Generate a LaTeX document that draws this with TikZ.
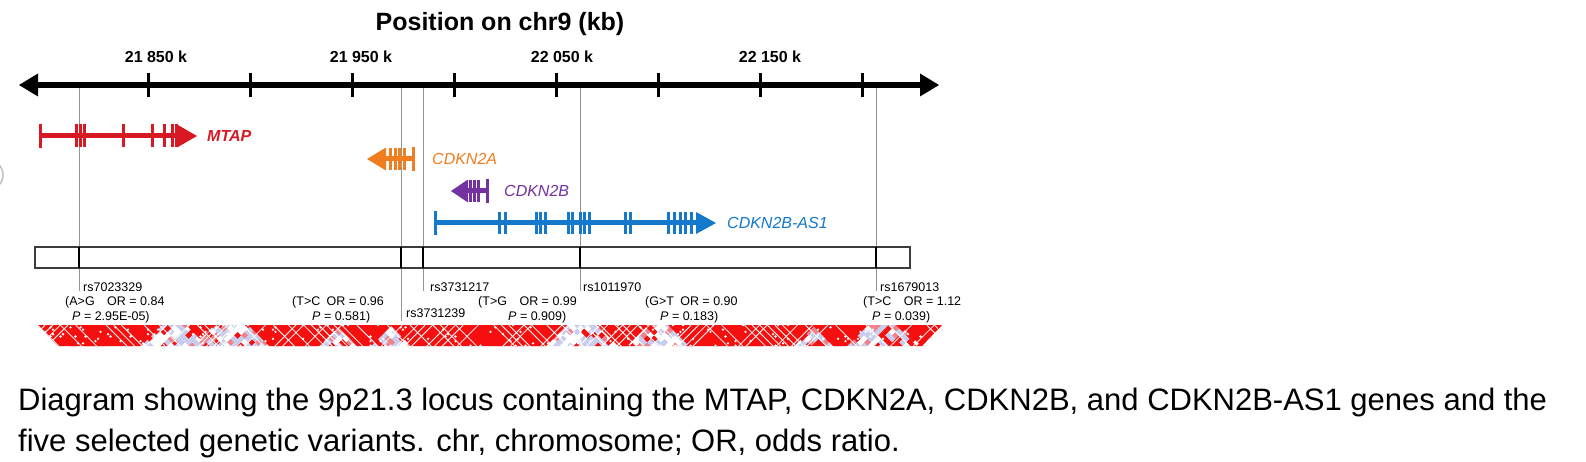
\documentclass[tikz,border=0pt]{standalone}
\usepackage{fontspec}
\setmainfont{Liberation Sans}
\definecolor{mtapred}{RGB}{215,25,35}
\definecolor{cdkaorange}{RGB}{240,125,30}
\definecolor{cdkbpurple}{RGB}{115,50,160}
\definecolor{asblue}{RGB}{20,120,205}
\definecolor{snpgray}{RGB}{150,150,150}
\definecolor{boxgray}{RGB}{60,60,60}
\definecolor{ld1}{RGB}{245,15,15}
\definecolor{ld2}{RGB}{200,205,238}
\definecolor{ld3}{RGB}{255,255,255}
\definecolor{ld4}{RGB}{238,130,140}
\begin{document}
\begin{tikzpicture}[x=1pt,y=-1pt,
  axisline/.style={line width=5.5pt},
  tickmark/.style={line width=3pt},
  snpline/.style={draw=snpgray, line width=1pt},
  snpmark/.style={draw=black, line width=2pt},
  locusbox/.style={draw=boxgray, line width=1.5pt, fill=white},
  trunk/.style={line width=5pt},
  exonbar/.style={line width=3pt},
  genelabel/.style={font=\fontsize{16}{18}\selectfont\itshape, anchor=west, inner sep=0pt},
  snptext/.style={font=\fontsize{12.5}{14}\selectfont, anchor=base west, inner sep=0pt},
  ticklabel/.style={font=\fontsize{16}{18}\selectfont\bfseries, anchor=base, inner sep=0pt},
  titletext/.style={font=\fontsize{25}{30}\selectfont\bfseries, anchor=base, inner sep=0pt},
  captiontext/.style={font=\fontsize{31}{36}\selectfont, anchor=base west, inner sep=0pt},
  hatchline/.style={draw=white, line width=0.8pt}
]
\useasboundingbox (0,0) rectangle (1586,462);
\fill[white] (0,0) rectangle (1586,462);

% stray arc at the left edge
\draw[gray!50, line width=1.5pt] (-12,175) ++(-60:15) arc[start angle=-60, end angle=60, radius=15];

% title
\node[titletext] (title) at (500,31) {Position on chr9 (kb)};

% tick labels
\node[ticklabel] (t1) at (156,63) {21 850 k};
\node[ticklabel] (t2) at (361,63) {21 950 k};
\node[ticklabel] (t3) at (562,63) {22 050 k};
\node[ticklabel] (t4) at (770,63) {22 150 k};

% SNP vertical lines
\foreach \x/\e in {79/291, 401/321, 423/291, 580/291, 876/291}
  \draw[snpline] (\x,85) -- (\x,\e);

% axis
\coordinate (axL) at (37,85);
\coordinate (axR) at (921,85);
\draw[axisline] (axL) -- (axR);
\fill (19,85) -- (38,73.5) -- (38,96.5) -- cycle;
\fill (939,85) -- (920,73.5) -- (920,96.5) -- cycle;
\foreach \x in {148,250.1,352.2,454.3,556.4,658.5,760.6,862.7}
  \draw[tickmark] (\x,73) -- (\x,97);

% locus box
\draw[locusbox] (35,247) rectangle (910,268);
\foreach \x in {79,401,423,580,876}
  \draw[snpmark] (\x,247) -- (\x,268);

% MTAP
\begin{scope}[mtapred]
\draw[trunk] (40,136) -- (180,136);
\draw[exonbar] (40,124) -- (40,148);
\foreach \x in {76,80,84,123,152,164,172,176}
  \draw[exonbar] (\x,124.5) -- (\x,147.5);
\fill (197,136) -- (177,124.5) -- (177,147.5) -- cycle;
\end{scope}
\node[genelabel, text=mtapred] (mtap) at (207,136) {\bfseries MTAP};

% CDKN2A
\begin{scope}[cdkaorange]
\draw[trunk] (382,159) -- (413,159);
\fill (367,159) -- (386,147.5) -- (386,170.5) -- cycle;
\foreach \x in {390,395,399,404}
  \draw[exonbar] (\x,148) -- (\x,170);
\draw[exonbar] (413,147) -- (413,171);
\end{scope}
\node[genelabel, text=cdkaorange] (cdkna) at (432,159) {CDKN2A};

% CDKN2B
\begin{scope}[cdkbpurple]
\draw[trunk] (463,191) -- (487,191);
\fill (451,191) -- (468,179.5) -- (468,202.5) -- cycle;
\foreach \x in {470,474,478}
  \draw[exonbar] (\x,180) -- (\x,202);
\draw[exonbar] (487,179) -- (487,203);
\end{scope}
\node[genelabel, text=cdkbpurple] (cdknb) at (504,191) {CDKN2B};

% CDKN2B-AS1
\begin{scope}[asblue]
\draw[trunk] (435,223) -- (698,223);
\draw[exonbar] (435,211) -- (435,235);
\foreach \x in {499,505,536,540,545,568,572,580,584,589,625,630,668,674,680,685,691}
  \draw[exonbar] (\x,212) -- (\x,234);
\fill (716,223) -- (696,212) -- (696,234) -- cycle;
\end{scope}
\node[genelabel, text=asblue] (as1) at (727,223) {CDKN2B-AS1};

% SNP labels
\node[snptext] (s1a) at (83,291) {rs7023329};
\node[snptext] (s1b) at (65,305.5) {(A>G\quad OR = 0.84};
\node[snptext] (s1c) at (72,320) {\textit{P} = 2.95E-05)};
\node[snptext] (s2b) at (292,305.5) {(T>C\enspace OR = 0.96};
\node[snptext] (s2c) at (312,320) {\textit{P} = 0.581)};
\node[snptext] (s2a) at (406,317) {rs3731239};
\node[snptext] (s3a) at (430,291) {rs3731217};
\node[snptext] (s3b) at (478,305.5) {(T>G\quad OR = 0.99};
\node[snptext] (s3c) at (508,320) {\textit{P} = 0.909)};
\node[snptext] (s4a) at (583,291) {rs1011970};
\node[snptext] (s4b) at (645,305.5) {(G>T\enspace OR = 0.90};
\node[snptext] (s4c) at (660,320) {\textit{P} = 0.183)};
\node[snptext] (s5a) at (880,291) {rs1679013};
\node[snptext] (s5b) at (863,305.5) {(T>C\quad OR = 1.12};
\node[snptext] (s5c) at (872,320) {\textit{P} = 0.039)};

% LD plot fragment
\pgfmathsetseed{4242}
\begin{scope}
\clip (38,325) -- (942,325) -- (922,346) -- (58,346) -- cycle;
% background mosaic (gaps between blocks)
\foreach \j in {0,...,6}{
  \foreach \i in {0,...,130}{
    \pgfmathsetmacro{\ldcx}{38+\i*7+mod(\j,2)*3.5}
    \pgfmathsetmacro{\ldcy}{325+\j*3.5}
    \pgfmathsetmacro{\ldr}{rnd}
    \pgfmathtruncatemacro{\ldc}{\ldr<0.2 ? 1 : (\ldr<0.6 ? 2 : (\ldr<0.72 ? 4 : 3))}
    \fill[ld\ldc] (\ldcx-3.5,\ldcy) -- (\ldcx,\ldcy-3.5) -- (\ldcx+3.5,\ldcy) -- (\ldcx,\ldcy+3.5) -- cycle;
  }
}
% LD blocks as inverted triangles
\foreach \a/\b in {30/162, 186/214, 248/340, 336/392, 390/567, 597/648, 668/815, 812/868, 900/950}
  \fill[ld1] (\a,325) -- (\b,325) -- ({(\a+\b)/2},{325+(\b-\a)/2}) -- cycle;
% fine white hatch inside the blocks
\foreach \k in {0,...,120}{
  \pgfmathsetmacro{\hx}{30+\k*7.6}
  \pgfmathsetmacro{\hra}{rnd}
  \pgfmathsetmacro{\hrb}{rnd}
  \ifdim\hra pt<0.4pt \draw[hatchline] (\hx,325) -- (\hx+22,347); \fi
  \ifdim\hrb pt<0.4pt \draw[hatchline] (\hx,325) -- (\hx-22,347); \fi
}
% speckle
\foreach \j in {0,...,9}{
  \foreach \i in {0,...,180}{
    \pgfmathsetmacro{\ldr}{rnd}
    \ifdim\ldr pt<0.1pt
      \pgfmathsetmacro{\sx}{38+\i*5+mod(\j,2)*2.5}
      \pgfmathsetmacro{\sy}{325+\j*2.3}
      \fill[white] (\sx-1.3,\sy) -- (\sx,\sy-1.3) -- (\sx+1.3,\sy) -- (\sx,\sy+1.3) -- cycle;
    \fi
  }
}
\end{scope}

% caption
\node[captiontext] (cap1) at (18,410) {Diagram showing the 9p21.3 locus containing the MTAP, CDKN2A, CDKN2B, and CDKN2B-AS1 genes and the};
\node[captiontext] (cap2) at (18,451) {five selected genetic variants. chr, chromosome; OR, odds ratio.};
\end{tikzpicture}
\end{document}
